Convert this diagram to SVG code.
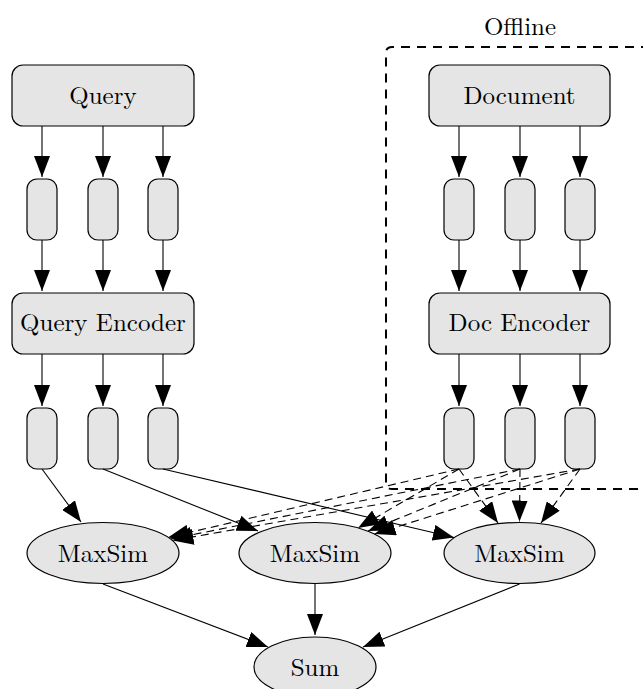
<svg xmlns="http://www.w3.org/2000/svg" width="643" height="689" viewBox="0 0 643 689">
  <style>
    .node { fill: #e5e5e5; stroke: #000; stroke-width: 1.2; }
    .lbl { font-family: "Latin Modern Roman", "CMU Serif", "Liberation Serif", "Tinos", "Times New Roman", "Noto Serif", "DejaVu Serif", "FreeSerif", "Nimbus Roman", Times, serif; font-size: 25px; fill: #000; text-anchor: middle; }
    .edge { fill: none; stroke: #000; stroke-width: 1.1; }
    .dashed { stroke-dasharray: 8 5; }
    .cluster { fill: none; stroke: #000; stroke-width: 2; stroke-dasharray: 9 7; }
  </style>
  <defs>
    <marker id="arrow" viewBox="0 0 21 16" refX="21" refY="8" markerWidth="21" markerHeight="16" orient="auto" markerUnits="userSpaceOnUse">
      <path d="M0,0 L21,8 L0,16 Z" fill="#000"/>
    </marker>
  </defs>
  <rect width="643" height="689" fill="#fff"/>

  <!-- offline cluster -->
  <g id="cluster-offline">
    <path class="cluster" d="M650,47 H392 Q386,47 386,53 V483 Q386,489 392,489 H650"/>
    <text class="lbl" x="520" y="35">Offline</text>
  </g>

  <!-- query side -->
  <g id="query">
    <rect class="node" x="12" y="65" width="182" height="61" rx="11"/>
    <text class="lbl" x="103" y="104">Query</text>
  </g>
  <g id="qtok1"><rect class="node" x="27" y="179" width="30" height="61" rx="10"/></g>
  <g id="qtok2"><rect class="node" x="88" y="179" width="30" height="61" rx="10"/></g>
  <g id="qtok3"><rect class="node" x="148" y="179" width="30" height="61" rx="10"/></g>
  <g id="query-encoder">
    <rect class="node" x="12" y="293" width="182" height="61" rx="11"/>
    <text class="lbl" x="103" y="331">Query Encoder</text>
  </g>
  <g id="qemb1"><rect class="node" x="27" y="408" width="30" height="61" rx="10"/></g>
  <g id="qemb2"><rect class="node" x="88" y="408" width="30" height="61" rx="10"/></g>
  <g id="qemb3"><rect class="node" x="148" y="408" width="30" height="61" rx="10"/></g>

  <!-- document side -->
  <g id="document">
    <rect class="node" x="429" y="65" width="181" height="61" rx="11"/>
    <text class="lbl" x="519.5" y="104">Document</text>
  </g>
  <g id="dtok1"><rect class="node" x="444" y="179" width="30" height="61" rx="10"/></g>
  <g id="dtok2"><rect class="node" x="505" y="179" width="30" height="61" rx="10"/></g>
  <g id="dtok3"><rect class="node" x="565" y="179" width="30" height="61" rx="10"/></g>
  <g id="doc-encoder">
    <rect class="node" x="429" y="293" width="181" height="61" rx="11"/>
    <text class="lbl" x="519.5" y="331">Doc Encoder</text>
  </g>
  <g id="demb1"><rect class="node" x="444" y="408" width="30" height="61" rx="10"/></g>
  <g id="demb2"><rect class="node" x="505" y="408" width="30" height="61" rx="10"/></g>
  <g id="demb3"><rect class="node" x="565" y="408" width="30" height="61" rx="10"/></g>

  <!-- scoring -->
  <g id="maxsim1">
    <ellipse class="node" cx="103" cy="553" rx="76" ry="30.5"/>
    <text class="lbl" x="103" y="562">MaxSim</text>
  </g>
  <g id="maxsim2">
    <ellipse class="node" cx="315" cy="553" rx="76" ry="30.5"/>
    <text class="lbl" x="315" y="562">MaxSim</text>
  </g>
  <g id="maxsim3">
    <ellipse class="node" cx="519.5" cy="553" rx="75.5" ry="30.5"/>
    <text class="lbl" x="519.5" y="562">MaxSim</text>
  </g>
  <g id="sum">
    <ellipse class="node" cx="315" cy="667" rx="61" ry="30"/>
    <text class="lbl" x="315" y="676">Sum</text>
  </g>

  <!-- connectors -->
  <g id="edges">
    <!-- query to tokens -->
    <path class="edge" d="M42,126 V177" marker-end="url(#arrow)"/>
    <path class="edge" d="M103,126 V177" marker-end="url(#arrow)"/>
    <path class="edge" d="M163,126 V177" marker-end="url(#arrow)"/>
    <path class="edge" d="M42,240 V291" marker-end="url(#arrow)"/>
    <path class="edge" d="M103,240 V291" marker-end="url(#arrow)"/>
    <path class="edge" d="M163,240 V291" marker-end="url(#arrow)"/>
    <path class="edge" d="M42,354 V406" marker-end="url(#arrow)"/>
    <path class="edge" d="M103,354 V406" marker-end="url(#arrow)"/>
    <path class="edge" d="M163,354 V406" marker-end="url(#arrow)"/>
    <!-- document to tokens -->
    <path class="edge" d="M459,126 V177" marker-end="url(#arrow)"/>
    <path class="edge" d="M520,126 V177" marker-end="url(#arrow)"/>
    <path class="edge" d="M580,126 V177" marker-end="url(#arrow)"/>
    <path class="edge" d="M459,240 V291" marker-end="url(#arrow)"/>
    <path class="edge" d="M520,240 V291" marker-end="url(#arrow)"/>
    <path class="edge" d="M580,240 V291" marker-end="url(#arrow)"/>
    <path class="edge" d="M459,354 V406" marker-end="url(#arrow)"/>
    <path class="edge" d="M520,354 V406" marker-end="url(#arrow)"/>
    <path class="edge" d="M580,354 V406" marker-end="url(#arrow)"/>
    <!-- query embeddings to MaxSim -->
    <path class="edge" d="M42,469 L81,522" marker-end="url(#arrow)"/>
    <path class="edge" d="M103,469 L258,531" marker-end="url(#arrow)"/>
    <path class="edge" d="M163,469 L454,537.5" marker-end="url(#arrow)"/>
    <!-- document embeddings to every MaxSim -->
    <path class="edge dashed" d="M459,469 L168,537.5" marker-end="url(#arrow)"/>
    <path class="edge dashed" d="M520,469 L171,539" marker-end="url(#arrow)"/>
    <path class="edge dashed" d="M580,469 L172.5,540.5" marker-end="url(#arrow)"/>
    <path class="edge dashed" d="M459,469 L358,528" marker-end="url(#arrow)"/>
    <path class="edge dashed" d="M520,469 L368,531" marker-end="url(#arrow)"/>
    <path class="edge dashed" d="M580,469 L374.5,534" marker-end="url(#arrow)"/>
    <path class="edge dashed" d="M459,469 L498,523" marker-end="url(#arrow)"/>
    <path class="edge dashed" d="M520,469 L519.5,521.5" marker-end="url(#arrow)"/>
    <path class="edge dashed" d="M580,469 L541,523" marker-end="url(#arrow)"/>
    <!-- MaxSim to Sum -->
    <path class="edge" d="M103,584 L268,647" marker-end="url(#arrow)"/>
    <path class="edge" d="M315,584 V635" marker-end="url(#arrow)"/>
    <path class="edge" d="M519.5,584 L363,647" marker-end="url(#arrow)"/>
  </g>
</svg>
